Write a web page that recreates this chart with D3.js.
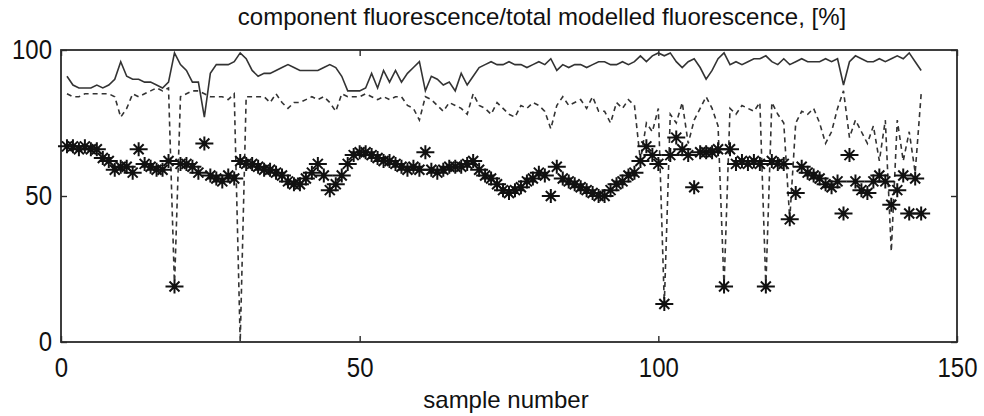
<!DOCTYPE html>
<html>
<head>
<meta charset="utf-8">
<script src="https://cdn.jsdelivr.net/npm/d3@7"></script>
<style>
  body { margin: 0; background: #fff; }
  text { font-family: "Liberation Sans", Arial, sans-serif; fill: #111; }
</style>
</head>
<body>
<svg id="chart"></svg>
<script>
const width = 984
const height = 416

// Data: one value per sample (sample number = index + 1)
const xTicks = [0, 50, 100, 150]
const yTicks = [0, 50, 100]

const totalShare = [
  91, 88, 87, 87, 87, 88, 87, 88, 90, 96,
  91, 90, 90, 89, 89, 88, 87, 89, 99, 95,
  93, 89, 89, 77, 92, 95, 95, 95, 96, 99,
  97, 93, 91, 92, 92, 93, 94, 95, 94, 93,
  93, 93, 93, 94, 95, 94, 91, 86, 86, 86,
  87, 92, 87, 93, 89, 93, 89, 92, 94, 96,
  86, 91, 90, 88, 89, 86, 92, 88, 91, 94,
  95, 96, 95, 95, 96, 95, 95, 94, 95, 96,
  95, 97, 93, 95, 94, 95, 95, 94, 95, 96,
  96, 95, 95, 96, 95, 96, 98, 96, 98, 99,
  98, 99, 96, 94, 96, 97, 94, 90, 93, 97,
  99, 95, 96, 95, 96, 97, 97, 98, 96, 95,
  97, 95, 96, 97, 96, 96, 96, 97, 96, 97,
  88, 96, 98, 97, 96, 96, 97, 96, 97, 98,
  97, 99, 96, 93
]

const secondShare = [
  85, 84, 84, 85, 85, 85, 85, 85, 84, 77,
  80, 85, 84, 85, 86, 87, 86, 87, 19, 84,
  85, 86, 86, 85, 84, 84, 84, 83, 85, 0,
  84, 84, 84, 84, 82, 85, 82, 80, 82, 82,
  83, 84, 83, 84, 82, 79, 85, 84, 84, 84,
  85, 84, 83, 84, 83, 84, 84, 81, 80, 76,
  84, 83, 81, 79, 82, 81, 80, 78, 85, 81,
  80, 78, 82, 80, 78, 77, 81, 80, 82, 81,
  79, 73, 81, 84, 81, 82, 83, 80, 84, 79,
  79, 75, 82, 80, 83, 81, 62, 75, 72, 80,
  13, 78, 75, 82, 68, 76, 80, 84, 80, 74,
  19, 80, 78, 81, 80, 79, 82, 19, 82, 78,
  75, 42, 75, 79, 78, 80, 75, 68, 72, 80,
  86, 70, 76, 72, 68, 74, 62, 76, 31, 76,
  62, 72, 58, 85
]

const firstShare = [
  67, 67, 66, 67, 66, 66, 63, 62, 59, 60,
  60, 58, 66, 61, 60, 59, 59, 62, 19, 61,
  61, 60, 58, 68, 57, 56, 55, 57, 56, 62,
  61, 61, 60, 59, 59, 58, 57, 55, 54, 54,
  56, 58, 61, 57, 52, 54, 57, 61, 64, 65,
  65, 64, 63, 62, 62, 61, 60, 59, 60, 59,
  65, 59, 58, 59, 60, 60, 60, 61, 62, 59,
  57, 56, 54, 52, 51, 52, 53, 55, 56, 58,
  57, 50, 60, 56, 55, 54, 53, 52, 51, 50,
  50, 52, 54, 55, 57, 58, 62, 67, 64, 61,
  13, 64, 70, 66, 64, 53, 65, 65, 65, 66,
  19, 66, 61, 62, 61, 62, 61, 19, 62, 61,
  61, 42, 51, 60, 58, 57, 56, 54, 53, 55,
  44, 64, 55, 52, 51, 55, 57, 55, 47, 52,
  57, 44, 56, 44
]

const svg = d3.select("#chart")
  .attr("width", width)
  .attr("height", height)

const plotLeft = 61, plotRight = 957, plotTop = 50, plotBottom = 342

const x = d3.scaleLinear().domain([0, 150]).range([plotLeft, plotRight])
const y = d3.scaleLinear().domain([0, 100]).range([plotBottom, plotTop])

const ink = "#2a2a2a"

// axes box
svg.append("rect")
  .attr("x", plotLeft)
  .attr("y", plotTop)
  .attr("width", plotRight - plotLeft)
  .attr("height", plotBottom - plotTop)
  .attr("fill", "none")
  .attr("stroke", ink)
  .attr("stroke-width", 1.8)

const labelStretch = 1.15

function styleAxis(g) {
  g.select(".domain").remove()
  g.selectAll(".tick line").attr("stroke", ink).attr("stroke-width", 1.4)
  g.selectAll(".tick text")
    .attr("font-size", 24)
    .attr("fill", "#1a1a1a")
}

const bottomAxis = svg.append("g")
  .attr("transform", `translate(0,${plotBottom})`)
  .call(d3.axisBottom(x).tickValues(xTicks).tickFormat(d3.format("d")).tickSize(-6).tickPadding(14))
  .call(styleAxis)
bottomAxis.selectAll(".tick text")
  .attr("transform", `scale(1,${labelStretch})`)
  .attr("y", 13)

svg.append("g")
  .attr("transform", `translate(0,${plotTop})`)
  .call(d3.axisTop(x).tickValues(xTicks).tickFormat("").tickSize(-6))
  .call(styleAxis)

const leftAxis = svg.append("g")
  .attr("transform", `translate(${plotLeft},0)`)
  .call(d3.axisLeft(y).tickValues(yTicks).tickFormat(d3.format("d")).tickSize(-6).tickPadding(9))
  .call(styleAxis)
leftAxis.selectAll(".tick text")
  .attr("transform", `scale(1,${labelStretch})`)

svg.append("g")
  .attr("transform", `translate(${plotRight},0)`)
  .call(d3.axisRight(y).tickValues(yTicks).tickFormat("").tickSize(-6))
  .call(styleAxis)

// series
const sampleX = (d, i) => x(i + 1)

const line = d3.line().x(sampleX).y(d => y(d))

svg.append("path")
  .datum(totalShare)
  .attr("d", line)
  .attr("fill", "none")
  .attr("stroke", "#333")
  .attr("stroke-width", 1.6)

svg.append("path")
  .datum(secondShare)
  .attr("d", line)
  .attr("fill", "none")
  .attr("stroke", "#333")
  .attr("stroke-width", 1.6)
  .attr("stroke-dasharray", "5,4")

// MATLAB-like '*' marker
const starPath = "M-9,0H9M0,-7V7M-5,-5L5,5M-5,5L5,-5"

svg.append("g")
  .selectAll("path")
  .data(firstShare)
  .enter()
  .append("path")
  .attr("transform", (d, i) => `translate(${sampleX(d, i)},${y(d)})`)
  .attr("d", starPath)
  .attr("fill", "none")
  .attr("stroke", "#111")
  .attr("stroke-width", 2)

// titles
svg.append("text")
  .attr("x", 542)
  .attr("y", 25)
  .attr("text-anchor", "middle")
  .attr("font-size", 24)
  .attr("fill", "#1a1a1a")
  .text("component fluorescence/total modelled fluorescence, [%]")

svg.append("text")
  .attr("x", 506)
  .attr("y", 408)
  .attr("text-anchor", "middle")
  .attr("font-size", 24)
  .attr("fill", "#1a1a1a")
  .text("sample number")
</script>
</body>
</html>
